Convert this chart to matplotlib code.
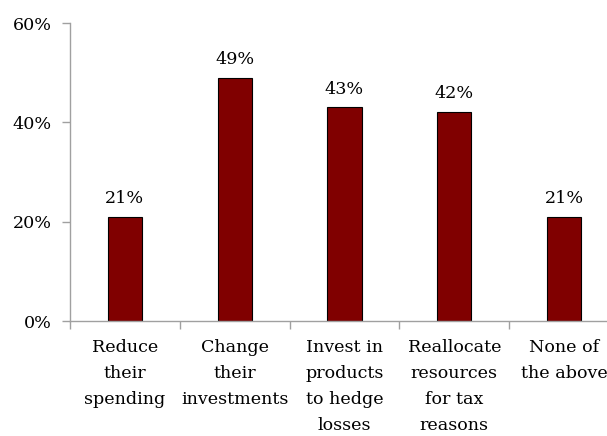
import numpy as np
import matplotlib.pyplot as plt
from matplotlib.ticker import FixedLocator, PercentFormatter

# Share of respondents choosing each action
categories = ["Reduce\ntheir\nspending", "Change\ntheir\ninvestments",
              "Invest in\nproducts\nto hedge\nlosses", "Reallocate\nresources\nfor tax\nreasons",
              "None of\nthe above"]
shares = [21, 49, 43, 42, 21]
y_ticks = [0, 20, 40, 60]

plt.rcParams['font.family'] = ['DejaVu Serif']
fs = 12.6

fig = plt.figure(figsize=(6.07, 4.36), dpi=100)
ax = fig.add_axes([70 / 607, (436 - 321) / 436, 549 / 607, 298 / 436])

x = np.arange(len(categories))
ax.bar(x, shares, width=0.31, color='#800000', edgecolor='black', linewidth=0.8)

for xi, v in zip(x, shares):
    ax.text(xi, v + 2, f"{v}%", ha='center', va='bottom', fontsize=fs)

ax.set_xlim(-0.5, len(categories) - 0.5)
ax.set_ylim(0, 60)
ax.set_yticks(y_ticks)
ax.yaxis.set_major_formatter(PercentFormatter(decimals=0))

# category labels centred, tick marks on the category boundaries
ax.set_xticks(x)
ax.set_xticklabels(categories, linespacing=1.7)
ax.tick_params(axis='x', length=0, pad=13, labelsize=fs)
ax.xaxis.set_minor_locator(FixedLocator(np.arange(-0.5, len(categories), 1.0)))
ax.tick_params(axis='x', which='minor', length=6, color='#a0a0a0', width=1)
ax.tick_params(axis='y', length=6, color='#a0a0a0', width=1, labelsize=fs, pad=7)

for side in ['top', 'right']:
    ax.spines[side].set_visible(False)
for side in ['left', 'bottom']:
    ax.spines[side].set_color('#a0a0a0')
    ax.spines[side].set_linewidth(1)

fig.savefig('out.png', dpi=100)
